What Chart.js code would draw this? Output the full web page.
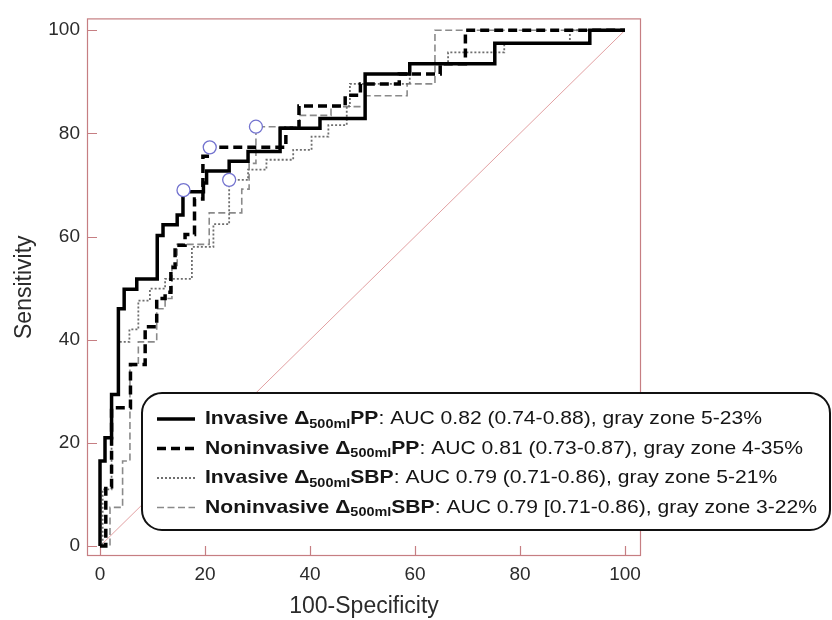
<!DOCTYPE html>
<html>
<head>
<meta charset="utf-8">
<script src="https://cdn.jsdelivr.net/npm/chart.js@4.4.1/dist/chart.umd.min.js"></script>
<style>
  html, body { margin: 0; padding: 0; background: #fff; }
  #wrap { width: 832px; height: 620px; }
</style>
</head>
<body>
<div id="wrap"><canvas id="rocChart" width="832" height="620"></canvas></div>
<script>
// ROC curves: x = 100-specificity, y = sensitivity (%)
// each pair is the top of a vertical step, the curve moves right first then up
const invPPx = [0, 0, 0.95, 2.2, 3.5, 4.6, 7.0, 10.9, 12.0, 14.7, 15.8, 19.7, 20.3, 24.6, 28.2, 34.3, 41.9, 50.5, 59.0, 75.2, 93.3, 100];
const invPPy = [0, 16.5, 21.0, 29.4, 46.0, 49.8, 51.8, 60.2, 62.3, 64.2, 68.7, 70.4, 72.7, 74.6, 76.5, 81.0, 82.9, 91.5, 93.5, 97.5, 100, 100];

const nonPPx = [0, 1.1, 2.2, 5.8, 8.6, 10.8, 12.4, 13.5, 14.3, 16.2, 18.0, 19.6, 20.9, 35.4, 37.9, 46.7, 49.6, 57.0, 64.8, 69.6, 100];
const nonPPy = [0, 11.5, 26.8, 35.2, 42.5, 48.0, 49.2, 54.0, 58.3, 60.4, 67.3, 75.6, 77.3, 81.0, 85.3, 87.4, 89.6, 91.5, 93.5, 100, 100];

const invSBPx = [0, 0.5, 2.2, 3.5, 5.6, 7.3, 9.5, 12.4, 17.5, 21.6, 24.6, 28.2, 31.7, 36.8, 40.3, 43.5, 47.0, 47.6, 59.0, 66.3, 77.0, 89.5, 100];
const invSBPy = [0, 11.0, 29.4, 39.6, 42.0, 47.6, 49.9, 51.8, 58.0, 62.4, 71.0, 73.0, 74.9, 76.8, 79.4, 81.6, 85.3, 89.6, 93.5, 95.7, 97.5, 100, 100];

const nonSBPx = [0, 1.9, 4.3, 5.7, 7.3, 10.8, 12.4, 13.7, 14.7, 20.8, 27.0, 28.4, 29.7, 38.0, 44.0, 50.5, 58.5, 63.8, 100];
const nonSBPy = [0, 7.5, 16.5, 35.0, 39.6, 46.0, 48.0, 54.4, 58.5, 64.6, 69.2, 74.2, 81.3, 83.5, 85.2, 87.3, 89.6, 100, 100];

// best cut-off points (open circles)
const cutX = [15.9, 20.9, 24.6, 29.7];
const cutY = [69.0, 77.3, 71.0, 81.3];

const tickValues = [0, 20, 40, 60, 80, 100];

const legendNames = ['Invasive', 'Noninvasive', 'Invasive', 'Noninvasive'];
const legendSignals = ['PP', 'PP', 'SBP', 'SBP'];
const legendStats = [
    ': AUC 0.82 (0.74-0.88), gray zone 5-23%',
    ': AUC 0.81 (0.73-0.87), gray zone 4-35%',
    ': AUC 0.79 (0.71-0.86), gray zone 5-21%',
    ': AUC 0.79 [0.71-0.86), gray zone 3-22%'
];

const fontFamily = '"Liberation Sans", Arial, Helvetica, sans-serif';
const frameColor = 'rgb(198, 126, 130)';

function toPoints(xs, ys) {
    return xs.map((x, i) => ({ x: x, y: ys[i] }));
}

// frame around the plot with tick marks pointing inwards
const framePlugin = {
    id: 'frame',
    beforeDatasetsDraw(chart) {
        const { ctx, chartArea: a, scales } = chart;
        ctx.save();
        ctx.strokeStyle = frameColor;
        ctx.lineWidth = 1.2;
        ctx.strokeRect(a.left + 0.5, a.top + 0.5, a.right - a.left - 1, a.bottom - a.top - 1);
        ctx.beginPath();
        tickValues.forEach(v => {
            const px = Math.round(scales.x.getPixelForValue(v)) + 0.5;
            ctx.moveTo(px, a.bottom);
            ctx.lineTo(px, a.bottom - 10);
            const py = Math.round(scales.y.getPixelForValue(v)) + 0.5;
            ctx.moveTo(a.left, py);
            ctx.lineTo(a.left + 10, py);
        });
        ctx.stroke();
        ctx.restore();
    }
};

// rounded legend box with bold names and subscripts
const boxLegendPlugin = {
    id: 'boxLegend',
    afterDraw(chart) {
        const ctx = chart.ctx;
        const left = 142, top = 393, right = 830, bottom = 530, r = 20;

        ctx.save();
        ctx.beginPath();
        ctx.moveTo(left + r, top);
        ctx.arcTo(right, top, right, bottom, r);
        ctx.arcTo(right, bottom, left, bottom, r);
        ctx.arcTo(left, bottom, left, top, r);
        ctx.arcTo(left, top, right, top, r);
        ctx.closePath();
        ctx.fillStyle = '#fff';
        ctx.fill();
        ctx.lineWidth = 2;
        ctx.strokeStyle = '#111';
        ctx.stroke();

        const bold = 'bold 19px ' + fontFamily;
        const boldSub = 'bold 13px ' + fontFamily;
        const normal = '19px ' + fontFamily;
        const parts = i => [
            { t: legendNames[i] + ' \u0394', f: bold, dy: 0 },
            { t: '500ml', f: boldSub, dy: 5 },
            { t: legendSignals[i], f: bold, dy: 0 },
            { t: legendStats[i], f: normal, dy: 0 }
        ];
        const widthOf = list => list.reduce((w, p) => {
            ctx.font = p.f;
            return w + ctx.measureText(p.t).width;
        }, 0);
        const sx = 557 / widthOf(parts(0));

        ctx.textBaseline = 'middle';
        ctx.fillStyle = '#151515';
        for (let i = 0; i < 4; i++) {
            const yLine = 419 + i * 29.5;
            const ds = chart.data.datasets[i + 1];
            ctx.beginPath();
            ctx.setLineDash(ds.borderDash || []);
            ctx.lineWidth = ds.borderWidth;
            ctx.strokeStyle = ds.borderColor;
            ctx.moveTo(157, yLine);
            ctx.lineTo(195, yLine);
            ctx.stroke();
            ctx.setLineDash([]);

            ctx.save();
            ctx.translate(205, yLine);
            ctx.scale(sx, 1);
            let cx = 0;
            parts(i).forEach(p => {
                ctx.font = p.f;
                ctx.fillText(p.t, cx, p.dy);
                cx += ctx.measureText(p.t).width;
            });
            ctx.restore();
        }
        ctx.restore();
    }
};

const stepLine = {
    stepped: true,
    fill: false,
    pointRadius: 0,
    tension: 0,
    borderCapStyle: 'butt',
    borderJoinStyle: 'miter'
};

new Chart(document.getElementById('rocChart').getContext('2d'), {
    type: 'line',
    data: {
        datasets: [
            {
                label: 'Cut-off',
                data: toPoints(cutX, cutY),
                showLine: false,
                pointRadius: 6.5,
                pointBorderWidth: 1.3,
                pointBorderColor: '#7373cf',
                pointBackgroundColor: '#fff'
            },
            Object.assign({
                label: 'Invasive PP',
                data: toPoints(invPPx, invPPy),
                borderColor: '#000',
                borderWidth: 3.5
            }, stepLine),
            Object.assign({
                label: 'Noninvasive PP',
                data: toPoints(nonPPx, nonPPy),
                borderColor: '#000',
                borderWidth: 3.5,
                borderDash: [9, 5]
            }, stepLine),
            Object.assign({
                label: 'Invasive SBP',
                data: toPoints(invSBPx, invSBPy),
                borderColor: '#6e6e6e',
                borderWidth: 1.8,
                borderDash: [2, 2]
            }, stepLine),
            Object.assign({
                label: 'Noninvasive SBP',
                data: toPoints(nonSBPx, nonSBPy),
                borderColor: '#8a8a8a',
                borderWidth: 1.6,
                borderDash: [7, 3.5]
            }, stepLine),
            {
                label: 'Reference',
                data: [{ x: 0, y: 0 }, { x: 100, y: 100 }],
                borderColor: 'rgb(226, 160, 162)',
                borderWidth: 1,
                pointRadius: 0,
                fill: false
            }
        ]
    },
    options: {
        responsive: false,
        animation: false,
        layout: {
            padding: { top: 14, right: 191, bottom: 0, left: 0 }
        },
        scales: {
            x: {
                type: 'linear',
                min: -2.48,
                max: 103.05,
                afterBuildTicks: s => { s.ticks = tickValues.map(v => ({ value: v })); },
                afterFit: s => { s.height = 64; },
                grid: { display: false, drawTicks: false },
                border: { display: false },
                ticks: {
                    padding: 7,
                    color: '#2b2b2b',
                    font: { family: fontFamily, size: 19 },
                    maxRotation: 0
                },
                title: {
                    display: true,
                    text: '100-Specificity',
                    color: '#2b2b2b',
                    font: { family: fontFamily, size: 23 },
                    padding: { top: 0, bottom: 0 }
                }
            },
            y: {
                type: 'linear',
                min: -1.92,
                max: 102.3,
                afterBuildTicks: s => { s.ticks = tickValues.map(v => ({ value: v })); },
                afterFit: s => { s.width = 87; },
                grid: { display: false, drawTicks: false },
                border: { display: false },
                ticks: {
                    padding: 7,
                    color: '#2b2b2b',
                    font: { family: fontFamily, size: 19 }
                },
                title: {
                    display: true,
                    text: 'Sensitivity',
                    color: '#2b2b2b',
                    font: { family: fontFamily, size: 23 },
                    padding: { top: 11, bottom: 0 }
                }
            }
        },
        plugins: {
            legend: { display: false },
            tooltip: { enabled: false }
        }
    },
    plugins: [framePlugin, boxLegendPlugin]
});
</script>
</body>
</html>
